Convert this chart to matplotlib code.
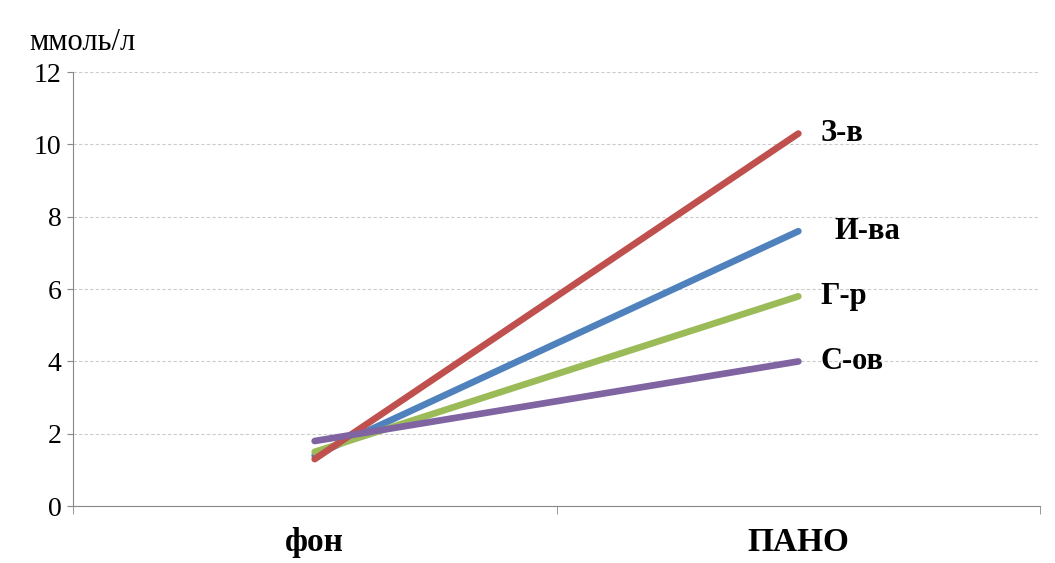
import numpy as np
import matplotlib.pyplot as plt

categories = ['фон', 'ПАНО']
series_names = ['З-в', 'И-ва', 'Г-р', 'С-ов']
series_values = {
    'З-в': [1.3, 10.3],
    'И-ва': [1.4, 7.6],
    'Г-р': [1.5, 5.8],
    'С-ов': [1.8, 4.0],
}
y_ticks = [0, 2, 4, 6, 8, 10, 12]

COLORS = {
    'З-в': '#C0504D',
    'И-ва': '#4F81BD',
    'Г-р': '#9BBB59',
    'С-ов': '#8064A2',
}
DRAW_ORDER = ['И-ва', 'Г-р', 'З-в', 'С-ов']
LABEL_OFFSETS = {'З-в': (16, 0), 'И-ва': (26, 0), 'Г-р': (16, 0), 'С-ов': (16, 0)}

plt.rcParams['font.family'] = ['Liberation Serif', 'DejaVu Serif']

fig = plt.figure(figsize=(10.55, 5.63), dpi=100)
ax = fig.add_axes([0.069, 0.101, 0.917, 0.771])

x = np.arange(len(categories))
for i, name in enumerate(DRAW_ORDER):
    ax.plot(x, series_values[name], color=COLORS[name], lw=4.8,
            solid_capstyle='round', zorder=3 + i)
    ax.annotate(name, (x[-1], series_values[name][-1]),
                xytext=LABEL_OFFSETS[name], textcoords='offset points',
                ha='left', va='center', fontsize=22, fontweight='bold')

ax.set_xlim(-0.5, 1.5)
ax.set_ylim(0, 12)
ax.set_yticks(y_ticks)
ax.tick_params(axis='y', labelsize=20, length=4, color='#888888', pad=4)
ax.set_xticks(x)
ax.set_xticklabels(categories, fontsize=24, fontweight='bold')
ax.set_xticks([-0.5, 0.5, 1.5], minor=True)
ax.tick_params(axis='x', which='major', length=0, pad=15)
ax.tick_params(axis='x', which='minor', length=6, color='#888888')

ax.grid(axis='y', ls=(0, (3, 2)), color='#cccccc', lw=0.8)
ax.set_axisbelow(True)
for s in ['top', 'right']:
    ax.spines[s].set_visible(False)
for s in ['left', 'bottom']:
    ax.spines[s].set_color('#888888')

fig.text(0.028, 0.898, 'ммоль/л', fontsize=22, ha='left', va='bottom')

fig.savefig('out.png', dpi=100)
